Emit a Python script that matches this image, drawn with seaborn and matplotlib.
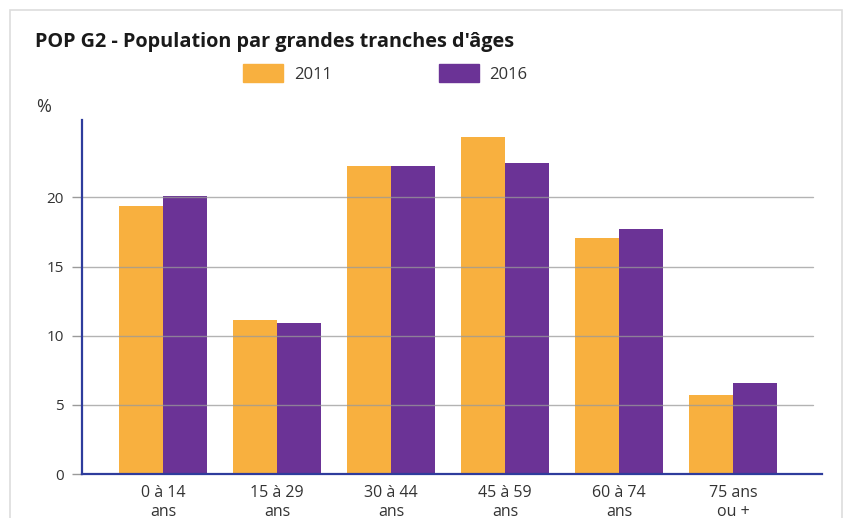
import matplotlib
matplotlib.use("Agg")
import matplotlib.pyplot as plt
import matplotlib.patches as mpatches
import seaborn as sns
import pandas as pd

categories = ["0 à 14\nans", "15 à 29\nans", "30 à 44\nans", "45 à 59\nans", "60 à 74\nans", "75 ans\nou +"]
values_2011 = [19.4, 11.15, 22.3, 24.35, 17.1, 5.7]
values_2016 = [20.1, 10.9, 22.3, 22.5, 17.7, 6.55]
years = ["2011", "2016"]
yticks = [0, 5, 10, 15, 20]

df = pd.DataFrame({
    "cat": categories * 2,
    "year": [years[0]] * len(categories) + [years[1]] * len(categories),
    "val": values_2011 + values_2016,
})

sns.set_theme(style="white")
plt.rcParams["font.family"] = ["Open Sans", "DejaVu Sans"]

orange = "#F8B03F"
purple = "#6B3396"
axis_blue = "#2E3C9C"
grid_grey = "#9a9a9a"

fig = plt.figure(figsize=(8.53, 5.18), dpi=100)
ax_left, ax_right = 82, 822
ax = fig.add_axes([ax_left/853, 1 - 474/518, (ax_right-ax_left)/853, (474-120)/518])

sns.barplot(data=df, x="cat", y="val", hue="year", palette=[orange, purple],
            width=0.77, ax=ax, legend=False, saturation=1, linewidth=0)

ax.set_xlim(-0.71, 5.78)
ax.set_ylim(0, 25.6)
ax.set_yticks(yticks)
ax.set_xlabel("")
ax.set_ylabel("")
ax.grid(False)
for yv in yticks[1:]:
    ax.axhline(yv, xmin=0, xmax=(813-ax_left)/(ax_right-ax_left), color=grid_grey,
               linewidth=1.0, alpha=0.75, zorder=4)
for s in ["top", "right"]:
    ax.spines[s].set_visible(False)
for s in ["left", "bottom"]:
    ax.spines[s].set_color(axis_blue)
    ax.spines[s].set_linewidth(1.6)
    ax.spines[s].set_zorder(5)
ax.tick_params(axis="y", length=7, color=grid_grey, width=1.0, labelsize=11, labelcolor="#333333", pad=6, left=True)
ax.tick_params(axis="x", length=0, labelsize=11.5, labelcolor="#333333", pad=8)
for lbl in ax.get_xticklabels():
    lbl.set_linespacing(1.2)

fig.text(35/853, 1 - 42/518, "POP G2 - Population par grandes tranches d'âges",
         fontsize=14.3, fontweight="bold", color="#1a1a1a", va="center", ha="left")
fig.text(36/853, 1 - 107/518, "%", fontsize=13, color="#333333", va="center", ha="left")

handles = [mpatches.Patch(color=orange, label="2011"), mpatches.Patch(color=purple, label="2016")]
fig.legend(handles=handles, ncol=2, loc="center left", bbox_to_anchor=(243/853, 1 - 73.5/518),
           frameon=False, fontsize=12, handlelength=2.4, handleheight=1.26, borderpad=0,
           borderaxespad=0, handletextpad=0.66, columnspacing=6.4, labelcolor="#333333")

border = mpatches.Rectangle((10/853, -0.05), (842-10)/853, 1.05 - 10/518, transform=fig.transFigure,
                            fill=False, edgecolor="#dddddd", linewidth=1.2)
fig.patches.append(border)

fig.savefig("out.png", dpi=100)
